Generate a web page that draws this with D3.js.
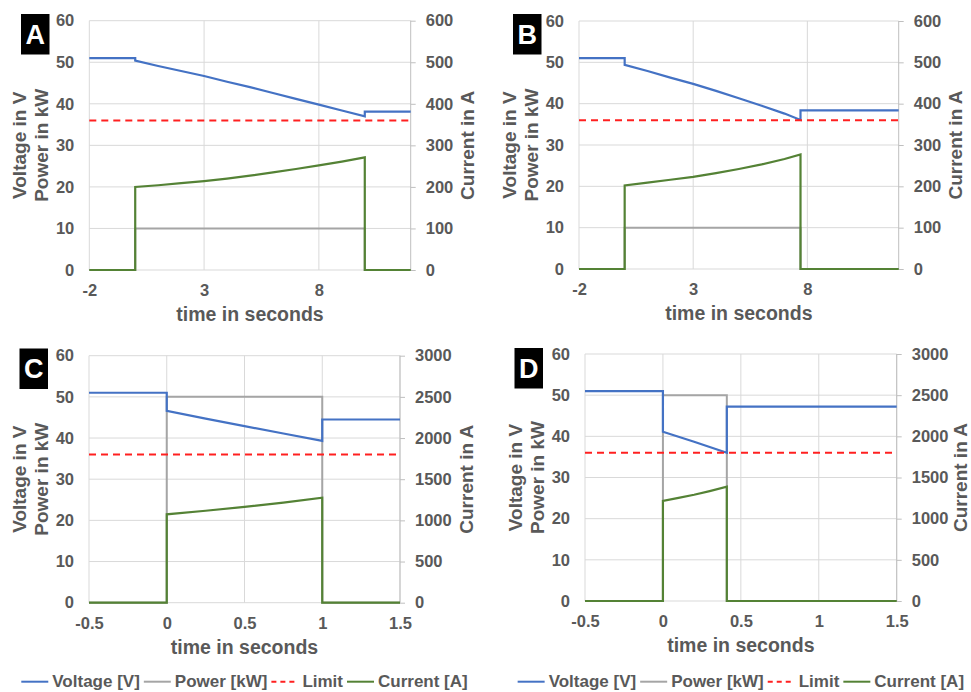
<!DOCTYPE html>
<html>
<head>
<meta charset="utf-8">
<script src="https://cdn.jsdelivr.net/npm/d3@7/dist/d3.min.js"></script>
<style>
  html, body { margin: 0; padding: 0; background: #ffffff; }
  svg { display: block; }
  text { font-family: "Liberation Sans", Arial, sans-serif; font-weight: bold; fill: #595959; }
</style>
</head>
<body>
<svg id="chart" width="971" height="692"></svg>
<script>
// ---------------- DATA ----------------
const panelLabels = ["A", "B", "C", "D"];
const xTicksAB = [-2, 3, 8];
const xTicksCD = [-0.5, 0, 0.5, 1, 1.5];
const yTicksLeft = [0, 10, 20, 30, 40, 50, 60];
const yTicksRightAB = [0, 100, 200, 300, 400, 500, 600];
const yTicksRightCD = [0, 500, 1000, 1500, 2000, 2500, 3000];
const limitValue = 36;
const legendLabels = ["Voltage [V]", "Power [kW]", "Limit", "Current [A]"];

// [time in s, value]
const voltageA = [[-2,51],[0,51],[0,50.4],[1,49.1],[2,47.9],[3,46.7],[4,45.3],[5,44.0],[6,42.6],[7,41.2],[8,39.8],[9,38.4],[10,37.0],[10,38.1],[12,38.1]];
const powerA   = [[-2,0],[0,0],[0,10],[10,10],[10,0],[12,0]];
const currentA = [[-2,0],[0,0],[0,200],[1,204],[2,209],[3,214],[4,220],[5,227],[6,235],[7,243],[8,252],[9,261],[10,271],[10,0],[12,0]];

const voltageB = [[-2,51],[0,51],[0,49.4],[1,47.9],[2,46.3],[3,44.8],[4,43.1],[5,41.3],[6,39.5],[7,37.6],[7.7,36.05],[7.7,38.4],[12,38.4]];
const powerB   = [[-2,0],[0,0],[0,10],[7.7,10],[7.7,0],[12,0]];
const currentB = [[-2,0],[0,0],[0,202],[1,209],[2,216],[3,223],[4,232],[5,242],[6,253],[7,266],[7.7,277],[7.7,0],[12,0]];

const voltageC = [[-0.5,51],[0,51],[0,46.6],[0.25,44.7],[0.5,42.9],[0.75,41.1],[1,39.3],[1,44.5],[1.5,44.5]];
const powerC   = [[-0.5,0],[0,0],[0,50],[1,50],[1,0],[1.5,0]];
const currentC = [[-0.5,0],[0,0],[0,1073],[0.25,1117],[0.5,1163],[0.75,1215],[1,1275],[1,0],[1.5,0]];

const voltageD = [[-0.5,51],[0,51],[0,41.1],[0.1,39.9],[0.2,38.7],[0.3,37.4],[0.41,36.0],[0.41,47.2],[1.5,47.2]];
const powerD   = [[-0.5,0],[0,0],[0,50],[0.41,50],[0.41,0],[1.5,0]];
const currentD = [[-0.5,0],[0,0],[0,1215],[0.1,1252],[0.2,1291],[0.3,1335],[0.41,1388],[0.41,0],[1.5,0]];

// ---------------- STYLE / LAYOUT ----------------
const colors = { voltage: "#4472C4", power: "#A5A5A5", limit: "#FF2020", current: "#548235", grid: "#D9D9D9", axis: "#BFBFBF" };
const fmt = d => String(d);

const panels = [
  { label: panelLabels[0], box: {left: 89.3, right: 410.7, top: 20.7, bottom: 270}, xDomain: [-2, 12], xTicks: xTicksAB, rDomain: [0, 600], rTicks: yTicksRightAB,
    voltage: voltageA, power: powerA, current: currentA, labelBox: [21, 14], curOff: 57, legend: false },
  { label: panelLabels[1], box: {left: 579, right: 898.7, top: 21, bottom: 269}, xDomain: [-2, 12], xTicks: xTicksAB, rDomain: [0, 600], rTicks: yTicksRightAB,
    voltage: voltageB, power: powerB, current: currentB, labelBox: [513, 14], curOff: 57, legend: false },
  { label: panelLabels[2], box: {left: 89, right: 400, top: 355.7, bottom: 602.7}, xDomain: [-0.5, 1.5], xTicks: xTicksCD, rDomain: [0, 3000], rTicks: yTicksRightCD,
    voltage: voltageC, power: powerC, current: currentC, labelBox: [19.5, 348.5], curOff: 66.5, legend: true },
  { label: panelLabels[3], box: {left: 585, right: 896.7, top: 354, bottom: 601}, xDomain: [-0.5, 1.5], xTicks: xTicksCD, rDomain: [0, 3000], rTicks: yTicksRightCD,
    voltage: voltageD, power: powerD, current: currentD, labelBox: [514.5, 348], curOff: 63.5, legend: true }
];

const svg = d3.select("#chart");

panels.forEach(p => {
  const b = p.box;
  const g = svg.append("g");
  const x = d3.scaleLinear().domain(p.xDomain).range([b.left, b.right]);
  const yL = d3.scaleLinear().domain([0, 60]).range([b.bottom, b.top]);
  const yR = d3.scaleLinear().domain(p.rDomain).range([b.bottom, b.top]);

  // horizontal gridlines
  g.append("g").selectAll("line").data(yTicksLeft).join("line")
    .attr("x1", b.left).attr("x2", b.right)
    .attr("y1", d => yL(d)).attr("y2", d => yL(d))
    .attr("stroke", colors.grid).attr("stroke-width", 1);
  // vertical gridlines
  g.append("g").selectAll("line").data(p.xTicks).join("line")
    .attr("x1", d => x(d)).attr("x2", d => x(d))
    .attr("y1", b.top).attr("y2", b.bottom)
    .attr("stroke", colors.grid).attr("stroke-width", 1);

  // left axis labels
  const axL = d3.axisLeft(yL).tickValues(yTicksLeft).tickSize(0).tickPadding(15).tickFormat(fmt);
  const gL = g.append("g").attr("transform", `translate(${b.left},0)`).call(axL);
  gL.select(".domain").remove();
  gL.selectAll("text").attr("font-size", 16.5).attr("fill", "#595959").attr("font-family", null);

  // right axis with outward ticks
  const axR = d3.axisRight(yR).tickValues(p.rTicks).tickSize(5).tickPadding(10).tickFormat(fmt);
  const gR = g.append("g").attr("transform", `translate(${b.right},0)`).call(axR);
  gR.select(".domain").attr("stroke", colors.axis).attr("d", `M0,${b.top}V${b.bottom}`);
  gR.selectAll(".tick line").attr("stroke", colors.axis);
  gR.selectAll("text").attr("font-size", 16.5).attr("fill", "#595959").attr("font-family", null);

  // bottom axis labels
  const axB = d3.axisBottom(x).tickValues(p.xTicks).tickSize(0).tickPadding(0).tickFormat(fmt);
  const gB = g.append("g").attr("transform", `translate(0,${b.bottom})`).call(axB);
  gB.select(".domain").remove();
  gB.selectAll("text").attr("font-size", 16.5).attr("fill", "#595959").attr("font-family", null)
    .attr("dy", null).attr("y", 26).attr("dominant-baseline", "auto");

  // axis titles
  const midY = (b.top + b.bottom) / 2;
  g.append("text").attr("transform", `translate(${b.left - 70},${midY}) rotate(-90)`)
    .attr("text-anchor", "middle").attr("dominant-baseline", "central").attr("font-size", 19).text("Voltage in V");
  g.append("text").attr("transform", `translate(${b.left - 47.5},${midY}) rotate(-90)`)
    .attr("text-anchor", "middle").attr("dominant-baseline", "central").attr("font-size", 19).text("Power in kW");
  g.append("text").attr("transform", `translate(${b.right + p.curOff},${midY}) rotate(-90)`)
    .attr("text-anchor", "middle").attr("dominant-baseline", "central").attr("font-size", 19).text("Current in A");
  g.append("text").attr("x", (b.left + b.right) / 2).attr("y", b.bottom + 51)
    .attr("text-anchor", "middle").attr("font-size", 19.5).text("time in seconds");

  // series
  const lineL = d3.line().x(d => x(d[0])).y(d => yL(d[1]));
  const lineR = d3.line().x(d => x(d[0])).y(d => yR(d[1]));

  g.append("path").datum(p.power).attr("d", lineL).attr("fill", "none")
    .attr("stroke", colors.power).attr("stroke-width", 2);
  g.append("path").datum(p.voltage).attr("d", lineL).attr("fill", "none")
    .attr("stroke", colors.voltage).attr("stroke-width", 2.2);
  g.append("path").datum([[p.xDomain[0], limitValue], [p.xDomain[1], limitValue]]).attr("d", lineL).attr("fill", "none")
    .attr("stroke", colors.limit).attr("stroke-width", 2).attr("stroke-dasharray", "7,5");
  g.append("path").datum(p.current).attr("d", lineR).attr("fill", "none")
    .attr("stroke", colors.current).attr("stroke-width", 2.2);

  // panel label
  g.append("rect").attr("x", p.labelBox[0]).attr("y", p.labelBox[1]).attr("width", 28.5).attr("height", 40.5).attr("fill", "#000");
  g.append("text").attr("x", p.labelBox[0] + 14.25).attr("y", p.labelBox[1] + 20.5)
    .attr("text-anchor", "middle").attr("dominant-baseline", "central")
    .attr("font-size", 27).style("fill", "#ffffff").text(p.label);

  // legend
  if (p.legend) {
    const lg = g.append("g");
    const seriesStyles = [
      { c: colors.voltage, dash: null },
      { c: colors.power, dash: null },
      { c: colors.limit, dash: "5,4" },
      { c: colors.current, dash: null }
    ];
    let cx = 0;
    const legY = 681.7;
    legendLabels.forEach((lab, i) => {
      const s = seriesStyles[i];
      lg.append("line").attr("x1", cx).attr("x2", cx + 27).attr("y1", legY).attr("y2", legY)
        .attr("stroke", s.c).attr("stroke-width", 2).attr("stroke-dasharray", s.dash);
      const t = lg.append("text").attr("x", cx + 31).attr("y", legY).attr("dominant-baseline", "central")
        .attr("font-size", 17).text(lab);
      cx += 31 + t.node().getComputedTextLength() + 4;
    });
    const total = cx - 4;
    lg.attr("transform", `translate(${(b.left + b.right) / 2 - total / 2},0)`);
  }
});
</script>
</body>
</html>
